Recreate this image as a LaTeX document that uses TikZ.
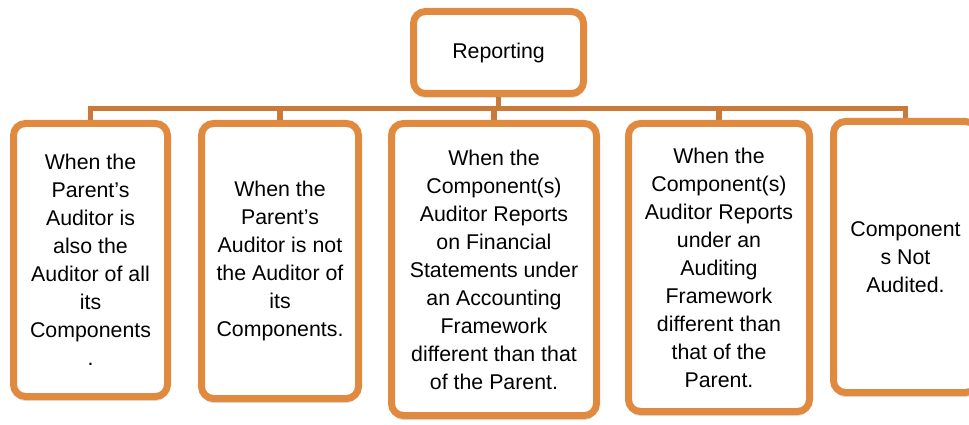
\documentclass[tikz,border=0pt]{standalone}
\usepackage{fontspec}
\setmainfont{Liberation Sans}
\usetikzlibrary{shadows, backgrounds}
\definecolor{boxorange}{RGB}{224,138,64}
\definecolor{linkorange}{RGB}{201,122,58}
\tikzstyle{box} = [rectangle, rounded corners=9pt, draw=boxorange, line width=5.25pt, fill=white, align=center, inner sep=0pt, font=\fontsize{16}{21}\selectfont, drop shadow={shadow xshift=0pt, shadow yshift=-3.5pt, opacity=0.25}]
\tikzstyle{link} = [draw=linkorange, line width=4pt]
\begin{document}
\begin{tikzpicture}[x=0.75pt, y=-0.75pt]
            \useasboundingbox (0,0) rectangle (969,424);
            \node [box, minimum width=127.5pt, minimum height=61.5pt] at (498.5,52.5) (rep) {Reporting};
            \node [box, minimum width=115.5pt, minimum height=204.75pt] at (90.5,260) (b1) {When the\\Parent’s\\Auditor is\\also the\\Auditor of all\\its\\Components\\.};
            \node [box, minimum width=117.75pt, minimum height=206.25pt] at (280,261) (b2) {When the\\Parent’s\\Auditor is not\\the Auditor of\\its\\Components.};
            \node [box, minimum width=153.75pt, minimum height=219pt] at (494,269.5) (b3) {When the\\Component(s)\\Auditor Reports\\on Financial\\Statements under\\an Accounting\\Framework\\different than that\\of the Parent.};
            \node [box, minimum width=135.75pt, minimum height=216pt] at (719,267.5) (b4) {When the\\Component(s)\\Auditor Reports\\under an\\Auditing\\Framework\\different than\\that of the\\Parent.};
            \node [box, minimum width=108pt, minimum height=203.25pt] at (905.5,257) (b5) {Component\\s Not\\Audited.};
            \coordinate (bus) at (498.5,108.5);

            \begin{scope}[on background layer]
            \draw [link] (rep.south) -- (bus);
            \foreach \b in {b1,b2,b3,b4,b5}
                \draw [link] (bus) -| (\b.north);
            \end{scope}
            \end{tikzpicture}
\end{document}
